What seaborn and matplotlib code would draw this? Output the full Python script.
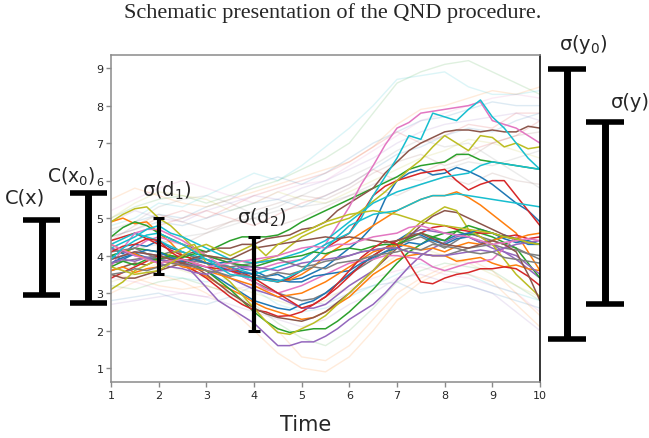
import numpy as np
import pandas as pd
import matplotlib
matplotlib.use('Agg')
import matplotlib.pyplot as plt
import seaborn as sns

# Trajectories, one value every 0.25 time units (t = 1 .. 10)
# group 1 (blue, orange, green, red, purple, brown, pink, gray, olive, cyan)
B1 = [4.20,4.05,4.30,4.25,4.40,4.20,4.10,3.95,3.90,3.80,3.85,3.65,3.60,3.45,3.50,3.35,3.40,3.55,3.70,3.95,4.20,4.45,4.80,5.50,6.00,6.20,6.30,6.15,6.20,6.35,6.25,6.10,5.90,5.65,5.40,5.20,4.90]
O1 = [4.90,5.00,4.85,4.90,4.60,4.35,4.00,3.90,3.80,3.75,3.65,3.55,3.50,3.40,3.30,3.35,3.50,3.70,4.00,4.20,4.40,4.60,4.80,5.00,5.20,5.35,5.50,5.60,5.60,5.70,5.55,5.35,5.10,4.85,4.60,4.10,3.60]
G1 = [4.50,4.75,4.90,4.80,4.60,4.45,4.30,4.20,4.10,4.25,4.40,4.50,4.50,4.50,4.55,4.70,4.90,5.05,5.20,5.35,5.50,5.65,5.80,5.95,6.10,6.30,6.40,6.45,6.50,6.70,6.70,6.55,6.50,6.45,6.40,6.35,6.30]
R1 = [4.40,4.50,4.60,4.45,4.30,4.15,4.00,3.90,3.80,3.75,3.70,3.55,3.40,3.35,3.30,3.40,3.60,3.90,4.20,4.40,4.60,5.10,5.60,5.85,6.00,6.10,6.20,6.25,6.30,6.00,5.75,5.90,6.00,6.00,5.60,5.20,4.80]
P1 = [3.90,4.00,4.10,4.05,4.00,3.95,3.80,3.50,3.15,2.80,2.60,2.40,2.20,1.90,1.60,1.60,1.70,1.70,1.85,2.05,2.30,2.50,2.70,3.00,3.35,3.70,4.00,4.20,4.35,4.50,4.60,4.50,4.30,4.10,3.90,3.65,3.40]
BR1 = [3.60,3.70,3.80,3.75,3.90,3.95,4.00,4.10,4.10,4.20,4.20,4.30,4.30,4.45,4.50,4.55,4.70,4.75,4.90,5.20,5.40,5.60,5.80,6.20,6.50,6.80,7.00,7.15,7.30,7.35,7.35,7.30,7.35,7.30,7.30,7.45,7.40]
PK1 = [4.00,4.10,4.20,4.40,4.50,4.40,4.30,4.15,4.00,3.90,3.80,3.70,3.60,3.70,3.80,3.85,3.90,4.10,4.30,4.80,5.30,5.90,6.40,6.95,7.40,7.55,7.80,7.85,7.90,7.95,8.00,8.10,7.60,7.50,7.40,7.20,7.00]
GR1 = [3.80,3.85,3.90,3.95,4.00,4.10,4.10,3.95,3.80,3.70,3.60,3.45,3.30,3.15,3.00,2.90,2.80,2.85,3.00,3.25,3.50,3.70,3.90,4.10,4.30,4.40,4.50,4.35,4.20,4.40,4.60,4.50,4.40,4.30,4.20,4.05,3.90]
OL1 = [4.90,5.10,5.25,5.30,5.00,4.80,4.50,4.20,4.00,3.95,3.90,3.85,3.80,3.90,4.00,4.25,4.50,4.65,4.80,4.90,5.00,5.20,5.45,5.70,6.00,6.30,6.55,6.90,7.20,7.00,6.80,7.20,7.15,6.90,7.00,6.85,6.90]
CY1 = [4.30,4.45,4.60,4.50,4.40,4.25,4.10,4.00,3.90,3.80,3.70,3.60,3.50,3.60,3.70,3.80,3.90,4.10,4.30,4.45,4.60,5.00,5.60,6.10,6.60,7.20,7.10,7.80,7.70,7.60,7.90,8.15,7.70,7.40,7.00,6.60,6.30]
# group 2
B2 = [4.00,3.90,4.05,3.95,3.90,3.80,3.85,3.70,3.60,3.40,3.20,3.00,2.80,2.70,2.60,2.55,2.70,2.80,3.00,3.25,3.50,3.75,4.00,4.20,4.40,4.60,4.55,4.40,4.30,4.45,4.50,4.35,4.40,4.55,4.45,4.30,4.30]
O2 = [3.60,3.70,3.55,3.65,3.70,3.80,3.75,3.60,3.45,3.25,3.10,2.95,2.75,2.60,2.50,2.40,2.30,2.35,2.50,2.70,2.90,3.20,3.50,3.70,3.90,4.00,4.05,4.00,4.00,3.85,3.90,3.95,3.80,3.70,3.75,3.65,3.60]
G2 = [4.00,4.10,4.20,4.15,4.10,4.00,3.90,3.75,3.60,3.35,3.10,2.80,2.50,2.25,2.05,1.95,2.00,2.05,2.05,2.25,2.50,2.80,3.10,3.45,3.80,4.10,4.30,4.50,4.60,4.65,4.55,4.60,4.50,4.35,4.20,3.80,3.40]
R2 = [3.40,3.55,3.70,3.85,4.00,3.90,3.80,3.60,3.40,3.15,2.90,2.70,2.55,2.50,2.38,2.40,2.50,2.70,2.90,3.15,3.45,3.75,4.00,4.20,4.40,4.50,4.60,4.75,4.80,4.70,4.65,4.60,4.60,4.50,4.55,4.45,4.50]
P2 = [4.20,4.10,4.00,3.95,3.90,3.85,3.80,3.75,3.70,3.55,3.40,3.25,3.10,3.00,2.90,2.75,2.60,2.60,2.70,2.95,3.20,3.40,3.60,3.95,4.30,4.55,4.70,4.65,4.60,4.55,4.50,4.35,4.20,4.10,4.00,3.75,3.50]
BR2 = [3.50,3.40,3.40,3.50,3.60,3.70,3.80,3.70,3.50,3.25,3.00,2.80,2.60,2.45,2.35,2.30,2.25,2.35,2.50,2.75,3.00,3.30,3.60,3.90,4.20,4.50,4.80,5.05,5.20,5.15,5.00,4.85,4.70,4.55,4.40,4.35,4.30]
PK2 = [3.70,4.20,4.60,4.70,4.70,4.55,4.40,4.20,4.00,3.80,3.60,3.45,3.30,3.10,3.00,3.10,3.20,3.35,3.50,3.65,3.80,3.85,3.90,4.00,4.00,3.95,3.90,3.70,3.60,3.70,3.80,3.85,3.90,4.20,4.50,4.35,4.30]
GR2 = [4.10,4.15,4.20,4.05,3.90,3.95,3.90,3.85,3.80,3.75,3.70,3.75,3.80,3.85,3.90,3.80,3.70,3.75,3.85,3.90,4.00,4.10,4.15,4.20,4.20,4.10,4.05,4.00,4.00,4.10,4.20,4.25,4.30,4.20,4.15,4.05,4.00]
OL2 = [3.10,3.30,3.60,3.75,3.90,4.05,4.20,4.30,3.80,3.55,3.30,2.95,2.60,2.25,1.95,1.90,2.05,2.20,2.40,2.70,3.00,3.30,3.60,3.95,4.30,4.60,4.90,5.10,5.30,5.20,4.70,4.50,4.30,3.90,3.50,3.20,2.90]
CY2 = [4.20,4.35,4.50,4.70,4.80,4.60,4.50,4.35,4.20,4.05,3.90,3.85,3.80,3.85,3.90,4.00,4.10,4.25,4.40,4.65,4.90,5.15,5.40,5.55,5.70,5.80,5.90,6.00,6.10,6.15,6.20,6.40,6.50,6.45,6.40,6.35,6.30]
# group 3
B3 = [3.80,3.95,4.05,4.15,4.10,3.95,3.85,3.90,3.80,3.70,3.60,3.55,3.50,3.40,3.35,3.30,3.30,3.45,3.50,3.55,3.60,3.80,3.95,4.10,4.20,4.35,4.30,4.45,4.40,4.55,4.60,4.70,4.60,4.45,4.35,4.40,4.30]
O3 = [4.30,4.15,4.05,3.90,3.80,3.85,3.70,3.65,3.60,3.50,3.40,3.30,3.20,3.05,2.90,2.95,3.00,3.15,3.30,3.50,3.70,3.90,4.10,4.20,4.30,4.25,4.15,4.20,4.10,4.25,4.35,4.30,4.40,4.50,4.45,4.55,4.60]
G3 = [3.70,3.85,3.75,3.90,3.90,4.00,3.95,4.05,4.00,3.90,3.80,3.75,3.70,3.80,3.90,3.95,4.00,4.10,4.05,4.15,4.20,4.15,4.25,4.30,4.30,4.45,4.60,4.50,4.40,4.65,4.80,4.70,4.60,4.50,4.45,4.35,4.30]
R3 = [4.10,4.25,4.30,4.45,4.40,4.10,3.90,3.80,3.70,3.65,3.60,3.50,3.40,3.20,3.00,2.80,2.60,2.70,2.90,3.25,3.60,3.95,4.20,4.40,4.30,3.80,3.30,3.25,3.40,3.50,3.55,3.65,3.65,3.70,3.65,3.45,3.20]
P3 = [3.80,3.90,3.85,3.95,3.80,3.70,3.65,3.55,3.50,3.60,3.60,3.70,3.70,3.65,3.60,3.70,3.80,3.85,3.90,3.95,4.00,4.10,4.15,4.20,4.20,4.10,4.05,4.00,4.00,4.05,4.10,4.15,4.10,4.20,4.30,4.35,4.40]
BR3 = [3.90,4.00,4.10,4.05,4.00,3.90,3.80,3.95,4.00,3.95,3.90,4.05,4.20,4.25,4.30,4.35,4.40,4.45,4.50,4.45,4.50,4.45,4.40,4.35,4.40,4.50,4.60,4.45,4.30,4.25,4.20,4.30,4.40,4.30,4.10,3.50,2.80]
PK3 = [4.30,4.15,4.00,3.90,3.80,3.85,3.90,3.80,3.70,3.75,3.80,3.85,3.90,3.95,4.00,4.10,4.20,4.25,4.20,4.30,4.30,4.40,4.50,4.55,4.60,4.75,4.80,4.70,4.60,4.55,4.50,4.40,4.30,4.35,4.40,4.45,4.40]
GR3 = [3.50,3.55,3.65,3.60,3.70,3.80,3.75,3.70,3.60,3.55,3.45,3.50,3.40,3.45,3.55,3.50,3.60,3.70,3.65,3.80,3.85,3.90,4.00,4.05,4.10,4.20,4.15,4.30,4.25,4.20,4.10,4.05,4.10,3.95,3.90,3.85,3.80]
OL3 = [3.70,3.60,3.50,3.55,3.60,3.80,4.00,4.20,4.30,4.15,4.00,4.15,4.30,4.00,4.30,4.45,4.60,4.75,4.90,5.00,5.10,5.15,5.20,5.15,5.10,5.00,4.90,4.85,4.80,4.75,4.70,4.65,4.60,4.50,4.45,4.35,4.30]
CY3 = [3.90,4.20,4.40,4.55,4.60,4.45,4.30,4.10,3.90,3.70,3.50,3.45,3.40,3.35,3.30,3.45,3.60,3.90,4.20,4.50,4.80,4.95,5.10,5.15,5.20,5.35,5.50,5.60,5.60,5.65,5.60,5.55,5.50,5.45,5.40,5.35,5.30]

solid_runs = [B1, O1, G1, R1, P1, BR1, PK1, GR1, OL1, CY1,
              B2, O2, G2, R2, P2, BR2, PK2, GR2, OL2, CY2,
              B3, O3, G3, R3, P3, BR3, PK3, GR3, OL3, CY3]

# Faint background trajectories, one value every 0.5 time units
faint_runs = [
    [4.6,4.9,5.1,5.0,5.3,5.5,5.9,6.1,5.9,6.2,6.6,7.0,7.3,7.6,7.7,7.9,8.1,8.0,8.0],
    [5.5,5.8,5.6,5.4,5.3,5.5,5.7,5.9,6.1,6.3,6.5,6.9,7.5,7.9,8.0,8.2,8.4,8.3,8.5],
    [5.0,5.3,5.5,5.6,5.4,5.6,5.8,6.0,6.3,6.6,7.0,7.8,8.6,8.9,9.1,9.2,8.9,8.6,8.3],
    [4.5,4.7,5.0,5.2,5.0,5.3,5.6,5.8,6.0,6.2,6.5,6.9,7.3,7.0,7.2,7.5,7.4,7.8,7.8],
    [4.9,5.2,5.0,4.9,5.2,5.4,5.6,5.5,5.8,6.0,6.3,6.6,7.0,7.3,7.5,7.6,7.7,7.8,7.6],
    [4.4,4.8,5.1,4.9,4.7,4.9,5.2,5.4,5.6,5.5,5.8,6.2,6.5,6.7,6.4,6.6,7.0,7.2,7.3],
    [5.2,5.5,5.8,6.0,5.8,5.6,5.4,5.7,5.9,6.0,6.4,6.8,7.2,7.6,7.8,8.0,8.2,8.3,8.2],
    [4.7,4.9,5.3,5.5,5.6,5.4,5.1,5.3,5.6,5.9,6.1,6.4,6.8,7.1,6.9,7.0,6.6,6.2,5.8],
    [5.0,5.4,5.7,5.6,5.5,5.2,5.4,5.7,5.5,5.4,5.7,6.0,6.3,6.6,6.8,7.1,7.0,6.8,6.6],
    [4.8,5.0,5.4,5.3,5.6,5.9,6.2,6.0,6.4,6.9,7.4,8.0,8.7,8.8,8.9,8.5,8.3,8.3,8.4],
    [2.8,2.9,3.0,2.8,2.7,2.9,3.2,3.0,2.8,2.7,3.0,3.2,3.3,3.0,3.1,3.2,3.0,2.8,2.6],
    [3.0,3.3,3.5,3.3,3.0,2.6,2.0,1.4,1.0,0.9,1.3,2.0,2.8,3.3,3.6,3.5,3.3,2.7,2.1],
    [3.2,3.1,3.3,3.4,3.2,3.0,2.7,2.2,1.8,1.6,2.0,2.6,3.3,3.6,3.8,3.7,3.6,3.2,2.8],
    [4.3,4.6,4.8,5.0,5.2,5.0,4.8,5.1,5.4,5.6,5.9,6.3,6.0,6.2,6.5,6.8,7.0,7.2,7.6],
    [2.7,2.8,2.9,3.0,2.9,2.7,2.5,2.3,2.1,2.3,2.7,3.0,3.4,3.5,3.3,3.2,3.0,2.5,2.0],
    [3.9,4.1,4.4,4.3,4.6,4.9,5.0,4.8,5.0,5.3,5.6,5.8,5.6,5.9,6.1,5.9,6.2,6.0,5.9],
    [3.4,3.3,3.1,3.0,2.9,3.1,3.2,3.0,2.8,2.9,3.1,3.4,3.6,3.7,3.5,3.4,3.2,3.0,2.5],
    [4.0,4.2,4.3,4.5,4.6,4.8,5.0,5.2,5.3,5.4,5.6,5.9,6.1,6.0,6.3,6.5,6.4,6.6,6.8],
    [3.3,3.5,3.8,3.6,3.4,3.2,3.0,2.8,2.6,2.8,3.2,3.6,4.0,4.2,4.0,3.8,3.5,3.2,2.9],
    [3.6,3.7,3.5,3.4,3.3,3.4,3.1,2.7,2.5,2.6,2.9,3.2,3.5,3.8,3.6,3.5,3.2,3.0,2.8],
    [4.5,4.7,4.9,4.8,5.0,5.2,5.4,5.5,5.3,5.6,5.9,6.3,6.7,6.9,7.2,7.4,7.3,7.6,7.8],
    [3.5,3.4,3.2,3.1,3.2,3.0,2.5,2.0,1.3,1.2,1.6,2.3,3.0,3.4,3.7,3.9,3.6,3.0,2.4],
]

x_ticks = list(range(1, 11))
y_ticks = list(range(1, 10))


def long_form(runs, prefix):
    frames = []
    for i, vals in enumerate(runs):
        frames.append(pd.DataFrame({
            'Time': np.linspace(1, 10, len(vals)),
            'value': vals,
            'run': f'{prefix}{i:02d}',
        }))
    return pd.concat(frames, ignore_index=True)


solid_df = long_form(solid_runs, 's')
faint_df = long_form(faint_runs, 'f')

tab10 = sns.color_palette('tab10')
solid_colors = [tab10[i % 10] for i in range(len(solid_runs))]
faint_colors = [tab10[i % 10] for i in range(len(faint_runs))]

sns.set_style('ticks')
plt.rcParams['font.family'] = ['DejaVu Sans']
plt.rcParams['mathtext.fontset'] = 'dejavusans'

W, H = 649, 439
fig = plt.figure(figsize=(W / 100, H / 100), dpi=100)
ax = fig.add_axes([111 / W, 1 - 383 / H, (540 - 111) / W, (383 - 56) / H])

sns.lineplot(data=faint_df, x='Time', y='value', hue='run', palette=faint_colors,
             legend=False, lw=1.0, alpha=0.15, ax=ax)
sns.lineplot(data=solid_df, x='Time', y='value', hue='run', palette=solid_colors,
             legend=False, lw=1.1, ax=ax)

ax.set_xlim(1, 10)
ax.set_ylim(0.63, 9.35)
ax.set_xticks(x_ticks)
ax.set_yticks(y_ticks)
ax.set_xlabel('')
ax.set_ylabel('')
ax.tick_params(length=3.5, width=1, color='#8a8a8a', labelsize=8, pad=2)
for s in ['left', 'bottom', 'top']:
    ax.spines[s].set_color('#8a8a8a')
    ax.spines[s].set_linewidth(1.1)
ax.spines['right'].set_color('black')
ax.spines['right'].set_linewidth(1.1)


# I-shaped spread markers (data units, some outside the axes)
def ibar(x, lo, hi, half, lw, cap_lw):
    ax.vlines(x, lo, hi, color='black', lw=lw, clip_on=False, zorder=5)
    ax.hlines([lo, hi], x - half, x + half, color='black', lw=cap_lw,
              clip_on=False, zorder=5)


ibar(-0.45, 2.94, 4.94, 0.39, 5, 4)     # C(x)
ibar(0.52, 2.73, 5.68, 0.39, 5, 4)      # C(x0)
ibar(2.0, 3.5, 5.0, 0.12, 3, 2.2)       # sigma(d1)
ibar(4.0, 2.0, 4.5, 0.12, 3, 2.2)       # sigma(d2)
ibar(10.57, 1.77, 8.98, 0.40, 5, 4)     # sigma(y0)
ibar(11.36, 2.70, 7.57, 0.40, 5, 4)     # sigma(y)


def ftext(px, py, s, **kw):
    fig.text(px / W, 1 - py / H, s, ha='center', va='center', **kw)


ftext(25, 198, 'C(x)', fontsize=14)
ftext(71, 177, 'C(x$_0$)', fontsize=13.5)
ftext(167, 191, 'σ(d$_1$)', fontsize=14)
ftext(262, 218, 'σ(d$_2$)', fontsize=14)
ftext(583, 44, 'σ(y$_0$)', fontsize=14)
ftext(630, 102, 'σ(y)', fontsize=14)

ftext(333, 13, 'Schematic presentation of the QND procedure.',
      fontsize=16, family='Liberation Serif')
ftext(306, 425, 'Time', fontsize=15)

fig.savefig('out.png', dpi=100)
